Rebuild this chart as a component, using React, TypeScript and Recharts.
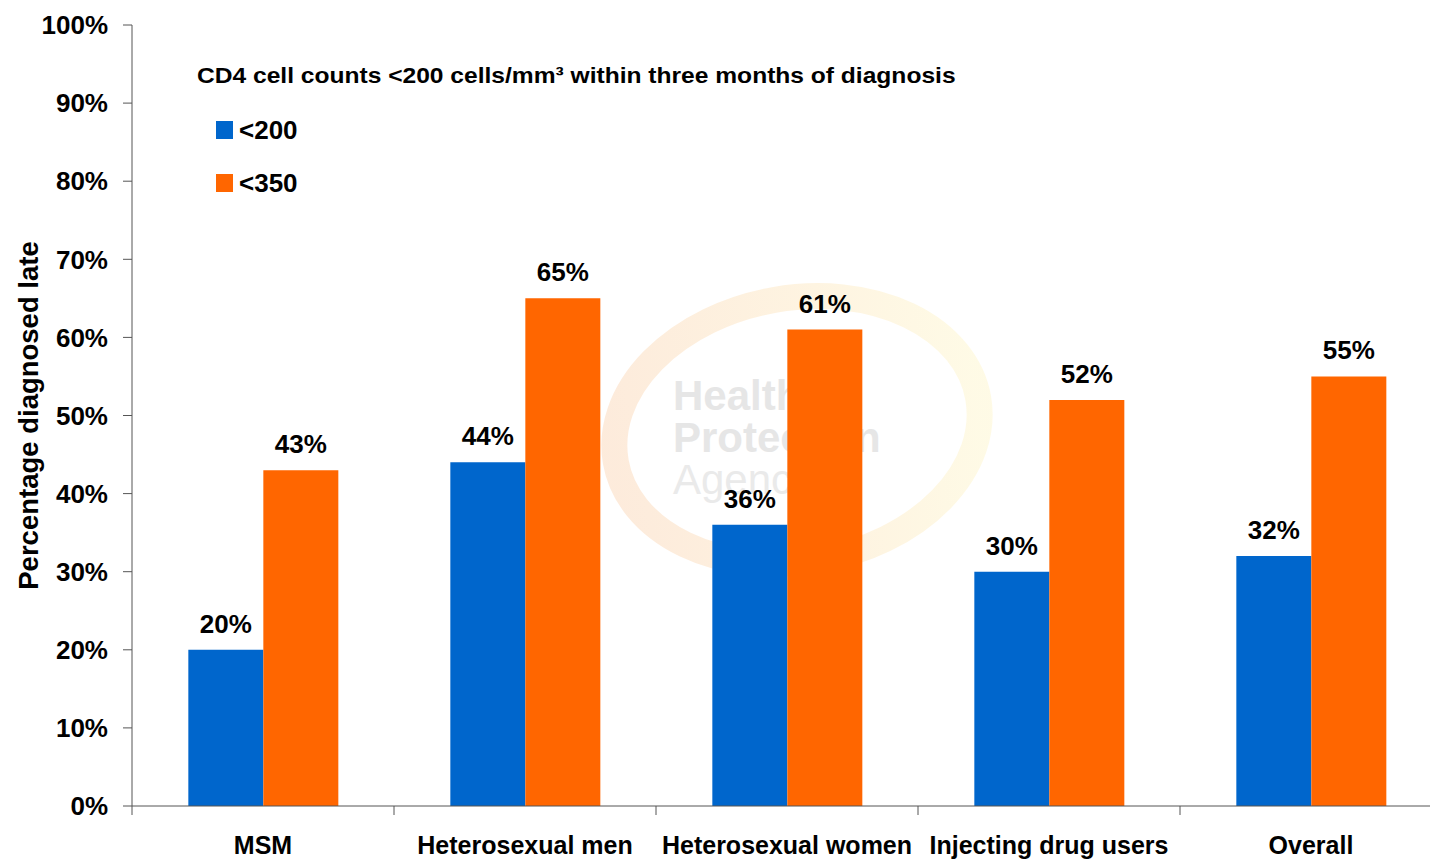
import { Bar, BarChart, LabelList, XAxis, YAxis } from "recharts";

const GROUPS = ["MSM", "Heterosexual men", "Heterosexual women", "Injecting drug users", "Overall"];
const UNDER_200 = [20, 44, 36, 30, 32];
const UNDER_350 = [43, 65, 61, 52, 55];
const Y_TICKS = [0, 10, 20, 30, 40, 50, 60, 70, 80, 90, 100];

const SERIES = [
  { key: "u200", name: "<200", color: "#0066CC" },
  { key: "u350", name: "<350", color: "#FF6600" },
];

const LEGEND_TITLE = "CD4 cell counts <200 cells/mm\u00b3 within three months of diagnosis";

const FONT = '"Liberation Sans", Arial, sans-serif';
const AXIS_COLOR = "#555";

const data = GROUPS.map((group, i) => ({
  group,
  u200: UNDER_200[i],
  u350: UNDER_350[i],
}));

// category label centred in the band, with the divider tick at the band's left edge
function GroupTick(props: any) {
  const { x, y, payload, width } = props;
  const band = width / GROUPS.length;
  const axisY = y - 30;
  return (
    <g>
      <line x1={x - band / 2} x2={x - band / 2} y1={axisY} y2={axisY + 9} stroke={AXIS_COLOR} />
      <text
        x={x}
        y={y}
        dy="0.71em"
        textAnchor="middle"
        fill="#000"
        style={{ fontFamily: FONT, fontWeight: 700, fontSize: 25 }}
      >
        {payload.value}
      </text>
    </g>
  );
}

// faint agency logo sitting behind the bars
function Watermark() {
  return (
    <svg width={1430} height={861} style={{ position: "absolute", left: 0, top: 0 }}>
      <defs>
        <linearGradient id="ring" x1="0" y1="0" x2="1" y2="0">
          <stop offset="0%" stopColor="#f28a2e" />
          <stop offset="55%" stopColor="#f8b84a" />
          <stop offset="100%" stopColor="#fbe36a" />
        </linearGradient>
      </defs>
      <ellipse
        cx={797}
        cy={430}
        rx={184}
        ry={132}
        fill="none"
        stroke="url(#ring)"
        strokeWidth={26}
        opacity={0.17}
        transform="rotate(-10 797 430)"
      />
      <g style={{ fontFamily: FONT, fontSize: 42 }} fill="#e6e6e6">
        <text x={673} y={410} fontWeight={700}>Health</text>
        <text x={673} y={452} fontWeight={700}>Protection</text>
        <text x={673} y={494} fill="#eaeaea">Agency</text>
      </g>
    </svg>
  );
}

function ChartLegend() {
  return (
    <div style={{ position: "absolute", left: 197, top: 60, fontFamily: FONT, fontWeight: 700, color: "#000" }}>
      <div
        style={{
          fontSize: 22,
          lineHeight: "32px",
          whiteSpace: "nowrap",
          transform: "scaleX(1.117)",
          transformOrigin: "left center",
        }}
      >
        {LEGEND_TITLE}
      </div>
      {SERIES.map((s, i) => (
        <div
          key={s.key}
          style={{
            display: "flex",
            alignItems: "center",
            position: "absolute",
            left: 19,
            top: 55 + i * 53,
            fontSize: 26,
            lineHeight: "30px",
            whiteSpace: "nowrap",
          }}
        >
          <span style={{ display: "inline-block", width: 17, height: 18, background: s.color, marginRight: 6 }} />
          {s.name}
        </div>
      ))}
    </div>
  );
}

export default function App() {
  return (
    <div
      style={{
        position: "fixed",
        left: 0,
        top: 0,
        width: 1430,
        height: 861,
        overflow: "hidden",
        background: "#fff",
      }}
    >
      <Watermark />
      <div style={{ position: "absolute", left: 0, top: 0 }}>
        <BarChart
          width={1450}
          height={861}
          data={data}
          margin={{ top: 25, right: 8, left: 0, bottom: 0 }}
          barGap={0}
          barCategoryGap="21.5%"
        >
          <XAxis
            dataKey="group"
            height={55}
            interval={0}
            tickLine={false}
            tickSize={9}
            tickMargin={21}
            axisLine={{ stroke: AXIS_COLOR }}
            tick={<GroupTick />}
          />
          <YAxis
            type="number"
            domain={[0, 100]}
            ticks={Y_TICKS}
            width={132}
            tickSize={9}
            tickMargin={15}
            interval={0}
            tickFormatter={(v) => `${v}%`}
            axisLine={{ stroke: AXIS_COLOR }}
            tickLine={{ stroke: AXIS_COLOR }}
            tick={{ fill: "#000", fontFamily: FONT, fontWeight: 700, fontSize: 26 }}
            label={{
              value: "Percentage diagnosed late",
              angle: -90,
              position: "insideLeft",
              offset: 28,
              fill: "#000",
              style: { textAnchor: "middle", fontFamily: FONT, fontWeight: 700, fontSize: 27.5 },
            }}
          />
          {SERIES.map((s) => (
            <Bar key={s.key} dataKey={s.key} name={s.name} fill={s.color} isAnimationActive={false}>
              <LabelList
                dataKey={s.key}
                position="top"
                offset={17}
                formatter={(v: any) => `${v}%`}
                style={{ fill: "#000", fontFamily: FONT, fontWeight: 700, fontSize: 26 }}
              />
            </Bar>
          ))}
        </BarChart>
      </div>
      <ChartLegend />
    </div>
  );
}
